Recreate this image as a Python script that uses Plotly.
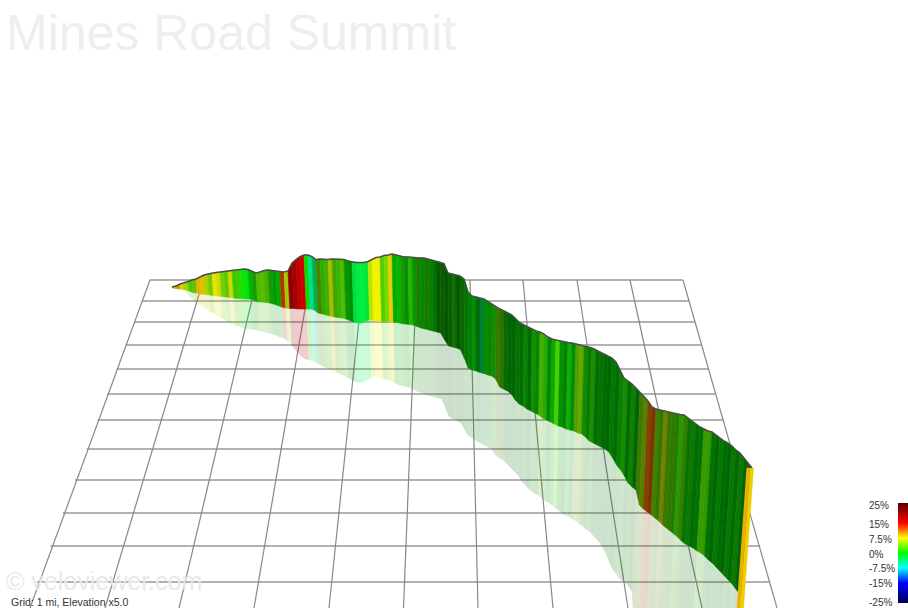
import numpy as np
import plotly.graph_objects as go

TITLE = "Mines Road Summit"
WATERMARK = "© veloviewer.com"
CAPTION = "Grid: 1 mi, Elevation x5.0"

# Route position across the view (start of each sample)
route_x = [172,176,180,184,188,192,196,200,204,208,212,216,220,224,228,232,236,240,244,248,
           252,256,260,264,268,272,276,280,284,288,292,296,300,304,308,312,316,320,324,328,
           332,336,340,344,348,352,356,360,364,368,372,376,380,384,388,392,396,400,404,408,
           412,416,420,424,428,432,436,440,444,448,452,456,460,464,468,472,476,480,484,488,
           492,496,500,504,508,512,516,520,524,528,532,536,540,544,548,552,556,560,564,568,
           572,576,580,584,588,592,596,600,604,608,612,616,620,624,628,632,636,640,644,648,
           652,656,660,664,668,672,676,680,684,688,692,696,700,704,708,712,716,720,724,728,
           732,736,740,744,748,752]
# Ridge height read at each sample
ridge_y = [287,286,284,283,281.5,280,279,277,275,274,273,272.5,272,271.5,271,270,270,269.5,269,269.5,
           271,273,272,270.5,270,270.5,271.5,272,272,271,263,259.5,256.5,255,255,256.5,259.5,259,259.5,259.5,
           259,259,259,259.5,261,262,262.5,262.5,262.5,261.5,259.5,257.5,257,255.5,255,254,255,256,257,257,
           257.5,258,258,258,259,260,261,262,263.5,273,274,275,276,279,292,296,297,298,299,301.5,
           304,307,309,311,313,315,319,323,325,327,329,331,332,334,337,339,340,341,342,342.5,
           343,344,345,346,347,348,350,352,354,356,358,362,370,378,381,384,388,392,396,401,
           407,409,410,411,412,413,414,414.5,415,418,421,424,427,429,431,432,435,438,441,443,
           446,450,453,458,463,468]
# Foot of the wall at each sample
foot_y = [288,288.5,289,289.5,291,292.5,293,294,294.5,295,295.5,296,296.5,297,297.5,298,298.5,298.5,299,299,
          300,302,302,302.5,303,304,305.5,307,308,308.5,308.5,309,309,309,309,310,313,314,315,316,
          317,317.5,318,319,320.5,322,323,323,321,320,320.5,321,321.5,322,322,322,322.5,323.5,324,324.5,
          325,326.5,328,329,330,331,332,333,340,346,347,348,349.5,358,368,370,371,372.5,373.5,375,
          376,379,387,389,391,394,400,404,406,409,411,413,415,418,420,422,424,426,427,429,
          430,431,433,434,437,441,443,445,447,449,452,458,465,470,476,483,487,490,505,509,
          512,515,518,521,525,528,531,534,537,541,544,546,548,551,553,556,560,563,567,571,
          575,579,583,588,593,598]
# Lower edge of the ground reflection at each sample
reflect_y = [288,289,290,291,296,300,303,306,309,312,314,317,319,322,324,326,327,328,329,329.5,
             330,331,332,333,334,335,337,338,341,345,351,356,359,360,361,363,365,367,369,370,
             372,374,376,378,380,382,383,382,380,378,377,378,379,380,381,383,385,386,387,388,
             390,392,393,395,396,397,398,399,408,417,419,421,423,430,436,438,441,443,445,447,
             449,455,458,460,464,468,472,476,482,486,490,493,495,498,501,503,506,509,512,515,
             516,519,521,524,527,530,533,537,541,546,553,562,570,575,580,582,586,592,630,660,
             660,660,660,660,660,660,660,660,660,660,660,660,660,660,660,660,660,660,660,660,
             660,660,660,660,660,660]
# Gradient (%) of each segment between samples
grade_pct = [9,10,8,5,3,4,9,8.5,6,4.5,7.5,7,4,3.5,7,2.5,2,0.5,-0.5,0,
             1,3,3.5,3,1,-0.3,0.5,13,6,17,17,16,16,0.3,-5,-3,4,2,2.5,7,
             3,2,3.5,-0.2,0,-2,-2,-2,-1.8,6,7.5,7.5,3,4,8.5,0,0.3,1,-0.2,2,
             0.2,1.8,0,1.5,0.5,-0.2,0,1.5,0,0.5,1.5,0,0.8,0.5,-0.5,0.5,-1,-3,0.3,0.5,
             1,3.5,3,0.5,0,-0.3,0,-0.2,0.5,-0.3,0.8,0.5,3,1.5,-0.3,0.5,2.5,0.3,-0.2,0.8,
             -0.3,4,4.5,1,0.5,1.5,-0.2,0.3,0,-0.3,0.2,-0.2,0.5,1.2,0,1,-0.3,4,5,11,
             12,4,3,7,3.5,3,2.5,2,3,0.5,0.8,-0.3,0,3,2.5,0.2,-0.2,0.3,0,-0.3,
             0.5,0,0.8,-0.2,0]
# Relative brightness of each segment's face as seen in the picture
face_tone = [1,1,1,1,.9,.85,1,1,.95,.9,1,.95,.9,.85,.95,.85,.9,1,1,.8,
             .7,.85,.85,.8,.7,.7,.75,.8,.9,.75,.85,.95,1,1,1,.8,.6,.8,.85,.9,
             .8,.85,.8,.65,.6,.95,1,1,.95,.95,1,1,.85,.9,1,.75,.8,.7,.65,.8,
             .7,.65,.8,.7,.75,.7,.65,.7,.7,.75,.85,.7,.8,.9,1,1.1,.85,1,1.1,1.05,
             1.1,.95,.9,.85,.8,.8,.9,.85,1,.8,1.1,.95,1.15,1.05,.8,1,1.2,.85,.8,1.05,
             .85,.95,1,.85,.85,1.1,.85,.9,.85,.8,.95,.85,1,1.1,.85,1,.8,.95,1,1,
             1,1,.95,1,.95,.95,.95,1.2,1,.9,.95,.85,.9,1.2,1.2,.9,.8,.95,.85,.8,
             .95,.85,.95,.8,.8]
# End cap of the wall
cap_x = [746.5,750,753.5]
cap_top = [468,468,468]
cap_foot = [660,660,660]
cap_grade = [9.5,8.5]

# Ground grid
grid_row_y = [280,301,322,345,369,394,420,449,480,513,546,582]
grid_col_top = [150,203.3,256.6,310,363.2,416.5,470,523,577,630,683]
grid_col_bottom = [30,105,179,254,329,403.5,478,553,628,702,777]
GRID_TOP, GRID_BOTTOM = 280, 608

# Colour scale legend
scale_ticks = [25,15,7.5,0,-7.5,-15,-25]
scale_labels = ["25%","15%","7.5%","0%","-7.5%","-15%","-25%"]
stop_grades = [-25,-15,-7.5,0,7.5,15,25]
stop_rgb = [(0,0,90),(0,0,255),(0,255,255),(0,255,0),(255,255,0),(255,0,0),(90,0,0)]

W, H = 908, 608
VP = (480.0, 4300.0)   # vanishing point of the verticals


def rgb_at(g):
    return [float(np.interp(g, stop_grades, [c[k] for c in stop_rgb])) for k in range(3)]


def lean(x, y_top, y):
    return x + (VP[0] - x) * (y - y_top) / (VP[1] - y_top)


def css(rgb, a=None):
    r, g, b = [int(round(min(v, 255))) for v in rgb]
    return f"rgb({r},{g},{b})" if a is None else f"rgba({r},{g},{b},{a})"


fig = go.Figure()

edge_l = 150 + (37 - 150) * (np.array(grid_row_y) - 280) / (582 - 280)
edge_r = 683 + 0.287 * (np.array(grid_row_y) - 280)
for y, l, r in zip(grid_row_y, edge_l, edge_r):
    fig.add_trace(go.Scatter(x=[l, r], y=[y, y], mode="lines", hoverinfo="skip",
                             line=dict(color="#b2b2b2", width=2)))
for t, b in zip(grid_col_top, grid_col_bottom):
    fig.add_trace(go.Scatter(x=[t, b], y=[GRID_TOP, GRID_BOTTOM], mode="lines", hoverinfo="skip",
                             line=dict(color="#888888", width=1.2)))

n = len(route_x)
x = np.array(route_x, float)
top = np.array(ridge_y, float)
foot = np.array(foot_y, float)
refl = np.array(reflect_y, float)
foot_x = lean(x, top, foot)
refl_x = lean(x, top, refl)

shades = []
for i in range(n - 1):
    a, b = max(i - 6, 0), min(i + 7, n - 1)
    slope = (foot[b] - foot[a]) / (x[b] - x[a])
    shades.append(float(np.clip(1.0 - 0.72 * slope, 0.5, 0.95)))

for i, (g, t) in enumerate(zip(grade_pct, face_tone, strict=True)):
    c = [v * shades[i] * t for v in rgb_at(g)]
    fig.add_trace(go.Scatter(
        x=[foot_x[i], foot_x[i + 1], refl_x[i + 1], refl_x[i]],
        y=[foot[i], foot[i + 1], refl[i + 1], refl[i]],
        mode="none", fill="toself", fillcolor=css(c, 0.2), hoverinfo="skip"))

for i, (g, t) in enumerate(zip(grade_pct, face_tone, strict=True)):
    c = [v * shades[i] * t for v in rgb_at(g)]
    fig.add_trace(go.Scatter(
        x=[x[i], x[i + 1], foot_x[i + 1], foot_x[i], x[i]],
        y=[top[i], top[i + 1], foot[i + 1], foot[i], top[i]],
        mode="lines", line=dict(color=css(c), width=0.6),
        fill="toself", fillcolor=css(c), hoverinfo="skip"))

for i, g in enumerate(cap_grade):
    c = [v * 0.93 for v in rgb_at(g)]
    xs = [cap_x[i], cap_x[i + 1], lean(cap_x[i + 1], cap_top[i + 1], cap_foot[i + 1]), lean(cap_x[i], cap_top[i], cap_foot[i])]
    ys = [cap_top[i], cap_top[i + 1], cap_foot[i + 1], cap_foot[i]]
    fig.add_trace(go.Scatter(x=xs, y=ys, mode="lines", line=dict(color=css(c), width=0.5),
                             fill="toself", fillcolor=css(c), hoverinfo="skip"))

fig.add_trace(go.Scatter(x=route_x, y=ridge_y, mode="lines", hoverinfo="skip",
                         line=dict(color="#4a4f4a", width=1.4)))

# Colour legend bar
fig.add_trace(go.Scatter(
    x=[-100, -100], y=[-100, -100], mode="markers", hoverinfo="skip",
    marker=dict(color=[-25, 25], cmin=-25, cmax=25, showscale=True,
                colorscale=[[(g + 25) / 50, css(c)] for g, c in zip(stop_grades, stop_rgb)],
                colorbar=dict(thickness=10, thicknessmode="pixels", len=100, lenmode="pixels",
                              x=898 / W, xanchor="left", y=(H - 603) / H, yanchor="bottom",
                              xpad=0, ypad=0, outlinewidth=0, borderwidth=0,
                              showticklabels=False, ticks=""))))

FONT = "Liberation Sans"
ann = [
    dict(x=5, y=33, text=TITLE, font=dict(family=FONT, size=50, color="#eeeeee")),
    dict(x=5, y=581, text=WATERMARK, font=dict(family=FONT, size=25, color="#e9e9e9")),
    dict(x=10, y=602, text=CAPTION, font=dict(family=FONT, size=10.5, color="#333333")),
]
for t, lab in zip(scale_ticks, scale_labels):
    ann.append(dict(x=868, y=554 - 1.94 * t, text=lab, font=dict(family=FONT, size=10, color="#333333")))
for a in ann:
    a.update(xref="x", yref="y", xanchor="left", yanchor="middle", showarrow=False,
             xshift=0, yshift=0, borderpad=0)

fig.update_layout(
    width=W, height=H, margin=dict(l=0, r=0, t=0, b=0, pad=0),
    paper_bgcolor="white", plot_bgcolor="white", showlegend=False, annotations=ann,
    xaxis=dict(range=[0, W], visible=False, fixedrange=True),
    yaxis=dict(range=[H, 0], visible=False, fixedrange=True),
)
fig.write_html("out.html", config=dict(displayModeBar=False),
               post_script="document.body.style.margin='0';document.body.style.overflow='hidden';")
